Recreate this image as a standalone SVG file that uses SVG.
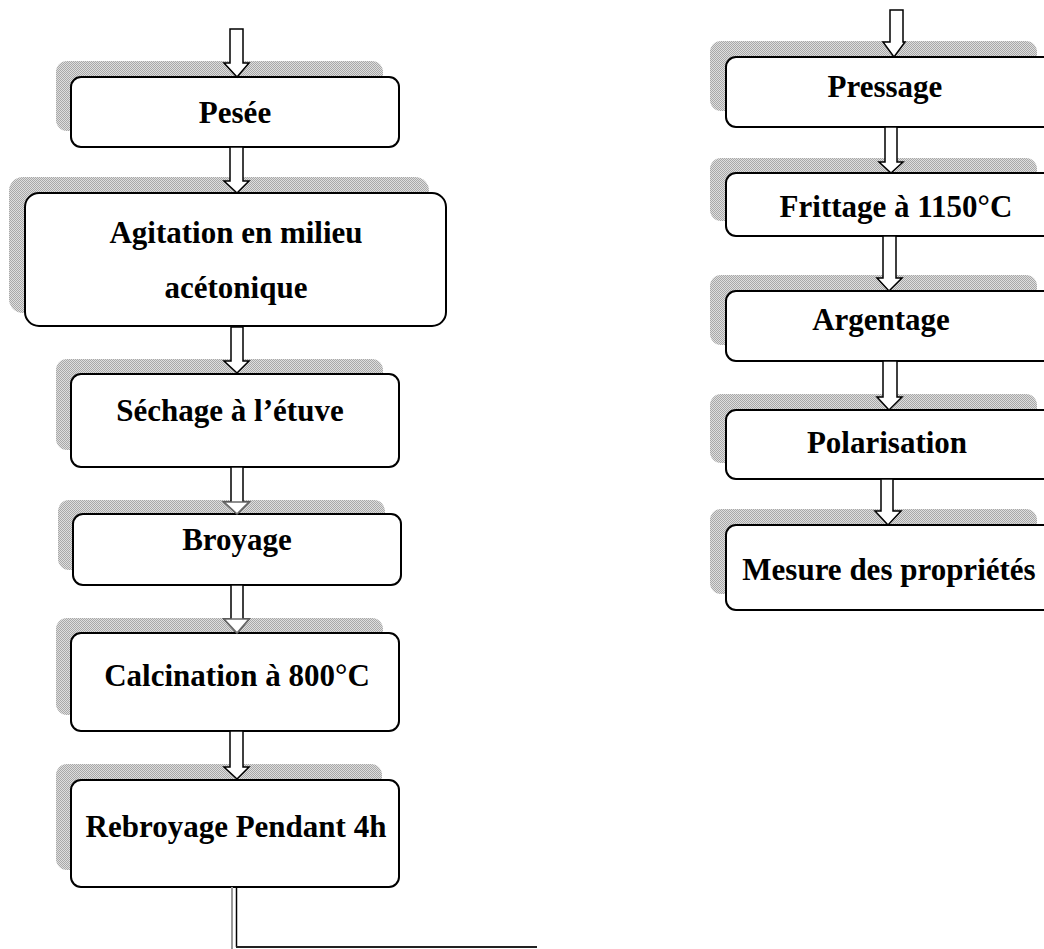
<svg xmlns="http://www.w3.org/2000/svg" width="1044" height="949" viewBox="0 0 1044 949">
<style>
.sh{fill:url(#dots);}
.bx{fill:#fff;stroke:#000;stroke-width:2;}
.t{font-family:"Liberation Serif","Times New Roman",serif;font-weight:bold;font-size:31px;fill:#000;text-anchor:middle;}
.ar{fill:#fff;stroke:#000;stroke-width:1.5;stroke-linejoin:miter;}
.hg{fill:#fff;stroke:#6a6a6a;stroke-width:1.6;}
</style>
<defs>
<pattern id="dots" width="2" height="2" patternUnits="userSpaceOnUse">
<rect width="2" height="2" fill="#dedede"/>
<rect width="1" height="1" fill="#a8a8a8"/>
<rect x="1" y="1" width="1" height="1" fill="#a8a8a8"/>
</pattern>
</defs>
<rect width="1044" height="949" fill="#fff"/>

<g id="shadows">
<rect class="sh" x="56" y="61" width="327" height="70" rx="11"/>
<rect class="sh" x="9" y="177" width="420" height="136" rx="14"/>
<rect class="sh" x="56" y="359" width="327" height="91" rx="11"/>
<rect class="sh" x="58" y="500" width="327" height="70" rx="11"/>
<rect class="sh" x="56" y="618" width="327" height="97" rx="11"/>
<rect class="sh" x="56" y="764" width="326" height="106" rx="11"/>
<rect class="sh" x="710" y="41" width="327" height="70" rx="11"/>
<rect class="sh" x="710" y="158" width="327" height="63" rx="11"/>
<rect class="sh" x="710" y="275" width="327" height="70" rx="11"/>
<rect class="sh" x="710" y="394" width="327" height="69" rx="11"/>
<rect class="sh" x="710" y="509" width="327" height="85" rx="11"/>
</g>

<g id="pesee"><rect class="bx" x="71" y="77" width="328" height="70" rx="10"/><text class="t" x="235" y="123">Pesée</text></g>
<g id="agitation"><rect class="bx" x="25" y="193" width="421" height="133" rx="14"/><text class="t" x="236" y="243">Agitation en milieu</text><text class="t" x="236" y="298">acétonique</text></g>
<g id="sechage"><rect class="bx" x="71" y="374" width="328" height="93" rx="10"/><text class="t" x="230" y="421">Séchage à l’étuve</text></g>
<g id="broyage"><rect class="bx" x="73" y="514" width="328" height="71" rx="10"/><text class="t" x="237" y="550">Broyage</text></g>
<g id="calcination"><rect class="bx" x="71" y="633" width="328" height="98" rx="10"/><text class="t" x="237" y="686">Calcination à 800°C</text></g>
<g id="rebroyage"><rect class="bx" x="71" y="780" width="328" height="107" rx="10"/><text class="t" x="236" y="837">Rebroyage Pendant 4h</text></g>
<g id="pressage"><rect class="bx" x="726" y="57" width="340" height="70" rx="10"/><text class="t" x="885" y="97">Pressage</text></g>
<g id="frittage"><rect class="bx" x="726" y="173" width="340" height="63" rx="10"/><text class="t" x="896" y="217">Frittage à 1150°C</text></g>
<g id="argentage"><rect class="bx" x="726" y="291" width="340" height="70" rx="10"/><text class="t" x="881" y="330">Argentage</text></g>
<g id="polarisation"><rect class="bx" x="726" y="410" width="340" height="69" rx="10"/><text class="t" x="887" y="453">Polarisation</text></g>
<g id="mesure"><rect class="bx" x="726" y="525" width="340" height="85" rx="10"/><text class="t" x="889" y="580">Mesure des propriétés</text></g>

<g id="connectors">
<polygon class="ar" points="230,29 243,29 243,63 249,63 237,77 224,63 230,63"/>
<polygon class="ar" points="230,147 243,147 243,181 249,181 237,193 224,181 230,181"/>
<polygon class="ar" points="231,327 243,327 243,361 249,361 237,373 224,361 231,361"/>
<polygon class="ar" points="231,467 243,467 243,502 249,502 237,514 224,502 231,502"/>
<polygon class="hg" points="231,502 224,502 237,514 249,502 243,502"/>
<polygon class="ar" points="231,585 243,585 243,619 249,619 237,633 224,619 231,619"/>
<polygon class="hg" points="231,619 224,619 237,633 249,619 243,619"/>
<polygon class="ar" points="230,731 243,731 243,767 249,767 237,779 224,767 230,767"/>
<polygon class="ar" points="890,10 903,10 903,42 905,42 894,57 883,42 890,42"/>
<polygon class="ar" points="885,127 897,127 897,162 903,162 891,173 879,162 885,162"/>
<polygon class="ar" points="883,236 896,236 896,278 902,278 889,291 877,278 883,278"/>
<polygon class="ar" points="883,361 897,361 897,397 902,397 889,410 877,397 883,397"/>
<polygon class="ar" points="881,479 893,479 893,511 901,511 888,525 875,511 881,511"/>
<line x1="232" y1="887" x2="232" y2="949" stroke="#999" stroke-width="2"/>
<line x1="236.5" y1="887" x2="236.5" y2="947" stroke="#000" stroke-width="1.5"/>
<line x1="236" y1="947" x2="537" y2="947" stroke="#222" stroke-width="2"/>
</g>
</svg>
